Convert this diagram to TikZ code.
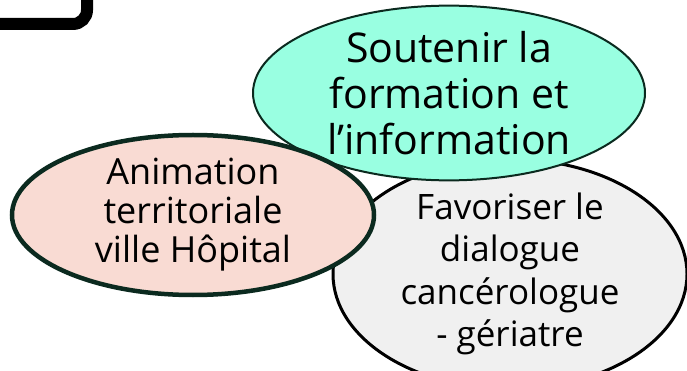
\documentclass[tikz,border=0pt]{standalone}
\usepackage{fontspec}
\setmainfont{Open Sans}[Ligatures=NoCommon]
\usepackage{tikz}
\usetikzlibrary{shapes.geometric}
\usepackage{xcolor}
\definecolor{aqua}{HTML}{99FFE1}
\definecolor{rose}{HTML}{F9DBD3}
\definecolor{pale}{HTML}{F0F0F0}
\definecolor{darkrim}{HTML}{0B2A1F}
\tikzset{
	bubble/.style={ellipse, align=center, inner sep=0pt}
}
\tikzstyle{aquabubble}=[bubble, fill=aqua, draw=darkrim, line width=2pt, font=\fontsize{41}{46}\selectfont]
\tikzstyle{rosebubble}=[bubble, fill=rose, draw=darkrim, line width=4.5pt, font=\fontsize{36}{39}\selectfont]
\tikzstyle{palebubble}=[bubble, fill=pale, draw=black, line width=3pt, font=\fontsize{35}{42.5}\selectfont]

\begin{document}
\begin{tikzpicture}[x=1pt,y=-1pt]
	\useasboundingbox (0,0) rectangle (687,371);
	\clip (0,0) rectangle (687,371);
	\fill[white] (0,0) rectangle (687,371);
	% corner of the frame above
	\draw[line width=12pt, rounded corners=14pt] (-20,24) -- (87,24) -- (87,-20);
	\node[palebubble, minimum width=354pt, minimum height=192pt] (dialogue) at (510,274) {Favoriser le\\dialogue\\cancérologue\\- gériatre};
	\node[aquabubble, minimum width=392pt, minimum height=172pt] (formation) at (449,93) {Soutenir la\\formation et\\l’information};
	\node[rosebubble, minimum width=362pt, minimum height=160pt] (animation) at (193,215) {Animation\\territoriale\\ville Hôpital};
\end{tikzpicture}
\end{document}
